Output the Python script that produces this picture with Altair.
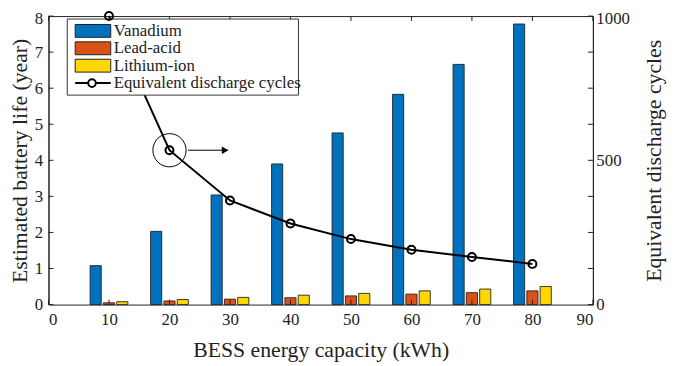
import altair as alt
import pandas as pd

# ---- data ----
capacity = [10, 20, 30, 40, 50, 60, 70, 80]
vanadium = [1.08, 2.03, 3.04, 3.90, 4.76, 5.83, 6.66, 7.78]
lead_acid = [0.05, 0.10, 0.15, 0.19, 0.24, 0.29, 0.33, 0.38]
lithium_ion = [0.08, 0.14, 0.20, 0.26, 0.31, 0.38, 0.43, 0.50]
cycles = [1000, 535, 361, 281, 227, 190, 165, 141]
series_names = ["Vanadium", "Lead-acid", "Lithium-ion"]
series_colors = ["#0072BD", "#D95319", "#FFD700"]
line_label = "Equivalent discharge cycles"
x_ticks = [0, 10, 20, 30, 40, 50, 60, 70, 80, 90]
left_ticks = [0, 1, 2, 3, 4, 5, 6, 7, 8]
right_ticks = [0, 125, 250, 375, 500, 625, 750, 875, 1000]
right_labels = [0, 500, 1000]
annot_point = [20]
annot_value = [535]

W, H = 551, 292
FONT = "Liberation Serif"
LBL = 17
TTL = 22

rows = []
for name, vals in zip(series_names, [vanadium, lead_acid, lithium_ion]):
    for c, v in zip(capacity, vals):
        rows.append({"cap": c, "series": name, "life": v})
bars_df = pd.DataFrame(rows)
cyc_df = pd.DataFrame({"cap": capacity, "cycles": cycles})

xscale = alt.Scale(domain=[0, 90], nice=False, zero=False)
yl_scale = alt.Scale(domain=[0, 8], nice=False)
yr_scale = alt.Scale(domain=[0, 1000], nice=False)
color_scale = alt.Scale(domain=series_names, range=series_colors)

x_axis = alt.Axis(values=x_ticks, ticks=False, domain=False, grid=False,
                  labelFont=FONT, labelFontSize=LBL, labelColor="#222",
                  labelPadding=7, title="BESS energy capacity (kWh)",
                  titleFont=FONT, titleFontSize=TTL, titleFontWeight="normal",
                  titleColor="#222", titlePadding=13)
yl_axis = alt.Axis(values=left_ticks, ticks=False, grid=False,
                   domainColor="#222", domainWidth=1,
                   labelFont=FONT, labelFontSize=LBL, labelColor="#222",
                   labelPadding=6,
                   labelOffset={"condition": {"test": "datum.value == 8", "value": 3}, "value": 0},
                   title="Estimated battery life (year)",
                   titleFont=FONT, titleFontSize=TTL,
                   titleFontWeight="normal", titleColor="#222",
                   titlePadding=3)
yr_axis = alt.Axis(orient="right", values=right_labels, format="d", ticks=False,
                   grid=False, domainColor="#222", domainWidth=1,
                   labelFont=FONT, labelFontSize=LBL, labelColor="#222",
                   labelPadding=3,
                   labelOffset={"condition": {"test": "datum.value == 1000", "value": 3}, "value": 0},
                   title="Equivalent discharge cycles", titleAngle=270,
                   titleFont=FONT, titleFontSize=TTL,
                   titleFontWeight="normal", titleColor="#222",
                   titlePadding=36)


def X(field):
    return alt.X(field, scale=xscale, axis=x_axis)


def YL(field):
    return alt.Y(field, scale=yl_scale, axis=yl_axis)


def YR(field):
    return alt.Y(field, scale=yr_scale, axis=yr_axis)


bars = alt.Chart(bars_df).transform_calculate(
    off="datum.series == 'Vanadium' ? -2.2 : (datum.series == 'Lead-acid' ? 0 : 2.2)"
).transform_calculate(
    xa="datum.cap + datum.off - 0.92", xb="datum.cap + datum.off + 0.92",
    base="0"
).mark_rect(stroke="#222", strokeWidth=0.9).encode(
    x=X("xa:Q"), x2="xb:Q",
    y=YL("life:Q"), y2="base:Q",
    color=alt.Color("series:N", scale=color_scale, legend=None),
)

# inward ticks
xt_df = pd.DataFrame({"t": x_ticks})
bottom_ticks = alt.Chart(xt_df).mark_rule(color="#222", strokeWidth=1).encode(
    x=X("t:Q"), y=alt.value(H), y2=alt.value(H - 5))
top_ticks = alt.Chart(xt_df).mark_rule(color="#222", strokeWidth=1).encode(
    x=X("t:Q"), y=alt.value(0), y2=alt.value(5))
lt_df = pd.DataFrame({"t": left_ticks})
left_tick_marks = alt.Chart(lt_df).mark_rule(color="#222", strokeWidth=1).encode(
    y=YL("t:Q"), x=alt.value(0), x2=alt.value(5))

left = alt.layer(bars, bottom_ticks, top_ticks, left_tick_marks)

# right axis layers
line = alt.Chart(cyc_df).mark_line(color="black", strokeWidth=2).encode(
    x=X("cap:Q"), y=YR("cycles:Q"))
pts = alt.Chart(cyc_df).mark_point(shape="circle", filled=False, color="black",
                                   strokeWidth=2, size=65, opacity=1).encode(
    x=X("cap:Q"), y=YR("cycles:Q"))
rt_df = pd.DataFrame({"t": right_ticks})
right_tick_marks = alt.Chart(rt_df).mark_rule(color="#222", strokeWidth=1).encode(
    y=YR("t:Q"), x=alt.value(W), x2=alt.value(W - 5))

ann_df = pd.DataFrame({"cap": annot_point, "cycles": annot_value})
ann_circle = alt.Chart(ann_df).mark_point(shape="circle", filled=False,
                                          color="black", strokeWidth=1,
                                          size=1130, opacity=1).encode(
    x=X("cap:Q"), y=YR("cycles:Q"))
ann_arrow = alt.Chart(ann_df).transform_calculate(
    a="datum.cap + 3.05", b="datum.cap + 9.6"
).mark_rule(color="black", strokeWidth=1).encode(
    x=X("a:Q"), x2="b:Q", y=YR("cycles:Q"))
ann_head = alt.Chart(ann_df).transform_calculate(
    h="datum.cap + 9.2"
).mark_point(shape="triangle-right", filled=True, color="black",
             size=60, opacity=1).encode(
    x=X("h:Q"), y=YR("cycles:Q"))

# legend (drawn manually, MATLAB style)
ROW0, STEP = 15, 17.6
leg_box = alt.Chart(pd.DataFrame({"k": [0]})).mark_rect(
    fill="white", stroke="#333", strokeWidth=1).encode(
    x=alt.value(19), x2=alt.value(253), y=alt.value(3), y2=alt.value(80))
leg_df = pd.DataFrame({"label": series_names, "row": [0, 1, 2]})
leg_sw = alt.Chart(leg_df).transform_calculate(
    ya=f"{ROW0} + {STEP} * datum.row - 6.5", yb=f"{ROW0} + {STEP} * datum.row + 6.5"
).mark_rect(stroke="#222", strokeWidth=1).encode(
    x=alt.value(27), x2=alt.value(63),
    y=alt.Y("ya:Q", scale=None), y2="yb:Q",
    color=alt.Color("label:N", scale=color_scale, legend=None),
)
leg_all = pd.DataFrame({"label": series_names + [line_label], "row": [0, 1, 2, 3]})
leg_txt = alt.Chart(leg_all).transform_calculate(
    yy=f"{ROW0} + {STEP} * datum.row"
).mark_text(align="left", baseline="middle", font=FONT, fontSize=LBL,
            color="#222").encode(
    x=alt.value(66), y=alt.Y("yy:Q", scale=None), text="label:N")
LY = ROW0 + 3 * STEP
leg_line = alt.Chart(pd.DataFrame({"k": [0]})).mark_rule(
    color="black", strokeWidth=2).encode(
    x=alt.value(27), x2=alt.value(63), y=alt.value(LY))
leg_pt = alt.Chart(pd.DataFrame({"k": [0]})).mark_point(
    shape="circle", filled=True, fill="white", stroke="black", strokeWidth=2,
    size=60, opacity=1).encode(x=alt.value(44), y=alt.value(LY))

right = alt.layer(line, right_tick_marks, ann_circle, ann_arrow, ann_head,
                  leg_box, leg_sw, leg_txt, leg_line, leg_pt, pts)

chart = alt.layer(left, right).resolve_scale(y="independent").properties(
    width=W, height=H,
    autosize=alt.AutoSizeParams(type="none"),
    padding={"left": 41, "top": 6, "right": 75, "bottom": 60},
    background="white",
).configure_view(stroke="#222", strokeWidth=1)

chart.save("out.html", embed_options={"renderer": "svg", "actions": False})
